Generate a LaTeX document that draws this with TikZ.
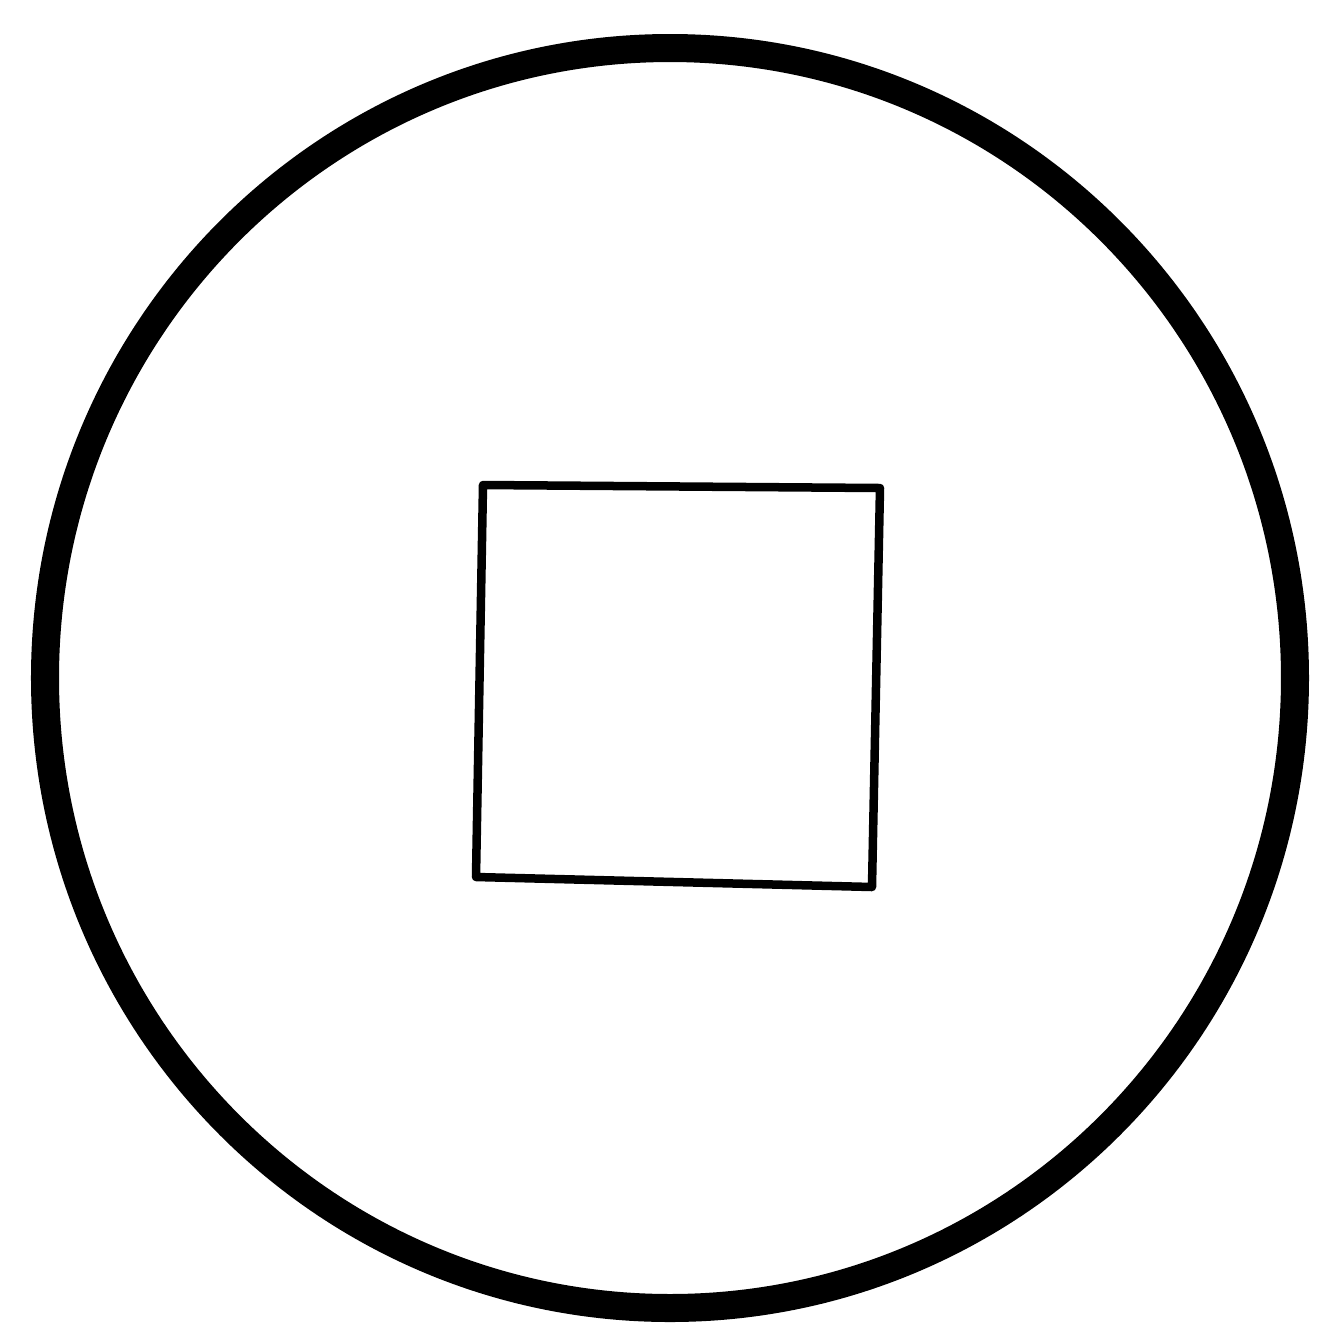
\documentclass[tikz,border=0pt]{standalone}
\usepackage{tikz}

\begin{document}
\begin{tikzpicture}[x=0.01cm,y=-0.01cm]
\useasboundingbox (0,0) rectangle (1338,1341);
\draw[line width=0.28cm] (670,678) ellipse (625 and 630);
\draw[line width=0.085cm,line cap=round,line join=round] (483,485) -- (880,488) -- (872,887) -- (476,877) -- cycle;
\end{tikzpicture}
\end{document}
